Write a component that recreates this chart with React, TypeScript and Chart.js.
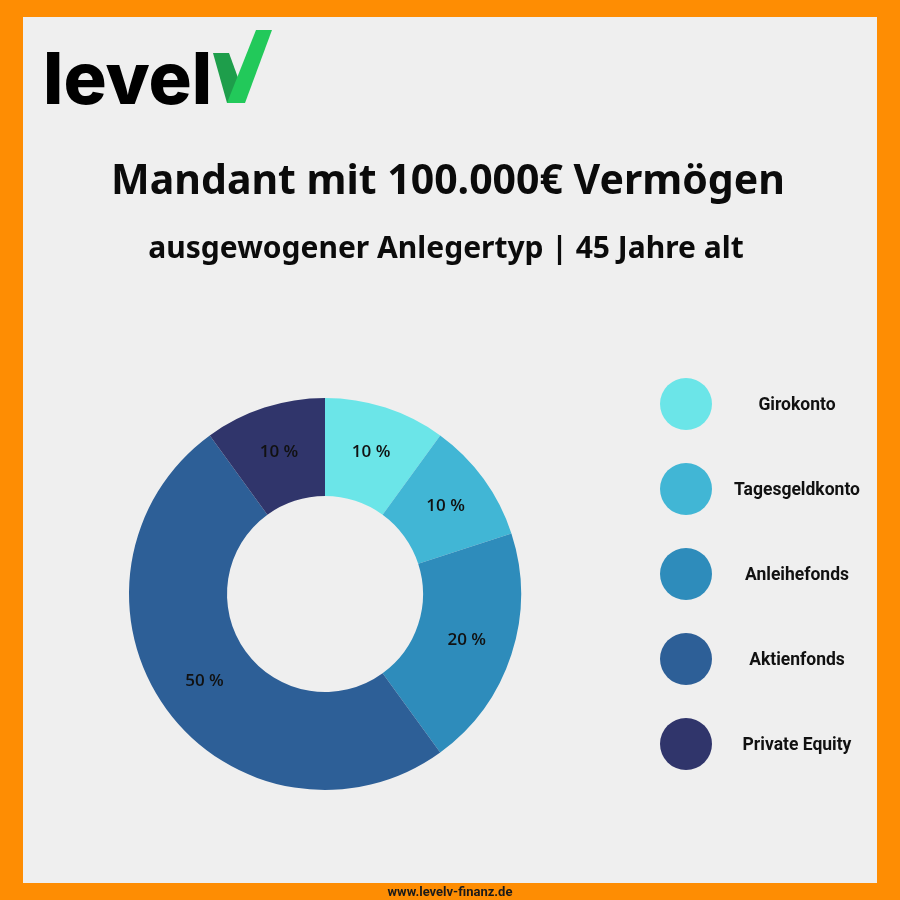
import React, { useEffect, useRef } from "react";
import { Chart, DoughnutController, ArcElement } from "chart.js";

Chart.register(DoughnutController, ArcElement);

// ---- data ----
const categories = ["Girokonto", "Tagesgeldkonto", "Anleihefonds", "Aktienfonds", "Private Equity"];
const shares = [10, 10, 20, 50, 10];
const sliceColors = ["#6BE5E8", "#41B6D5", "#2E8CBB", "#2D5F97", "#30356B"];
const titleText = "Mandant mit 100.000€ Vermögen";
const subtitleText = "ausgewogener Anlegertyp | 45 Jahre alt";
const footerText = "www.levelv-finanz.de";
const logoText = "level";

const ORANGE = "#FE8D03";
const PANEL = "#EFEFEF";

const decorPlugin = {
  id: "decor",
  beforeDraw(chart: any) {
    const ctx = chart.ctx as CanvasRenderingContext2D;
    ctx.save();
    ctx.fillStyle = ORANGE;
    ctx.fillRect(0, 0, 900, 900);
    ctx.fillStyle = PANEL;
    ctx.fillRect(23, 17, 854, 866);

    // logo
    ctx.fillStyle = "#000";
    ctx.font = "800 72px Inter";
    ctx.textAlign = "left";
    ctx.textBaseline = "alphabetic";
    ctx.fillText(logoText, 43, 104);
    // check mark
    ctx.fillStyle = "#1E9E4B";
    ctx.beginPath();
    ctx.moveTo(213, 53);
    ctx.lineTo(229, 53);
    ctx.lineTo(241, 86);
    ctx.lineTo(234, 103);
    ctx.lineTo(227, 103);
    ctx.closePath();
    ctx.fill();
    ctx.fillStyle = "#22C95A";
    ctx.beginPath();
    ctx.moveTo(256, 30);
    ctx.lineTo(272, 30);
    ctx.lineTo(245, 103);
    ctx.lineTo(227, 103);
    ctx.closePath();
    ctx.fill();

    // titles
    ctx.fillStyle = "#0B0B0B";
    ctx.textAlign = "center";
    ctx.font = "bold 41px 'Noto Sans'";
    ctx.fillText(titleText, 448, 194);
    ctx.font = "bold 30px 'Noto Sans'";
    ctx.fillText(subtitleText, 446, 258);

    // footer
    ctx.fillStyle = "#1A1A1A";
    ctx.font = "bold 13px Roboto";
    ctx.fillText(footerText, 450, 896);
    ctx.restore();
  },
};

const labelsPlugin = {
  id: "sliceLabels",
  afterDatasetsDraw(chart: any) {
    const ctx = chart.ctx as CanvasRenderingContext2D;
    const meta = chart.getDatasetMeta(0);
    const values = chart.data.datasets[0].data as number[];
    ctx.save();
    ctx.fillStyle = "#111";
    ctx.font = "600 17px 'Open Sans'";
    ctx.textAlign = "center";
    ctx.textBaseline = "middle";
    meta.data.forEach((arc: any, i: number) => {
      const p = arc.getProps(["x", "y", "startAngle", "endAngle", "innerRadius", "outerRadius"], true);
      const mid = (p.startAngle + p.endAngle) / 2;
      const r = (p.innerRadius + p.outerRadius) / 2 + 2;
      ctx.fillText(values[i] + " %", p.x + Math.cos(mid) * r, p.y + Math.sin(mid) * r);
    });
    ctx.restore();
  },
};

const legendPlugin = {
  id: "circleLegend",
  afterDraw(chart: any) {
    const ctx = chart.ctx as CanvasRenderingContext2D;
    const labels = chart.data.labels as string[];
    const colors = chart.data.datasets[0].backgroundColor as string[];
    ctx.save();
    labels.forEach((lab, i) => {
      const cy = 404 + i * 85;
      ctx.fillStyle = colors[i];
      ctx.beginPath();
      ctx.arc(686, cy, 26, 0, Math.PI * 2);
      ctx.fill();
      ctx.fillStyle = "#111";
      ctx.font = "bold 17.5px Roboto";
      ctx.textAlign = "center";
      ctx.textBaseline = "middle";
      ctx.fillText(lab, 797, cy + 2);
    });
    ctx.restore();
  },
};

export default function App() {
  const ref = useRef<HTMLCanvasElement>(null);
  useEffect(() => {
    let chart: Chart | null = null;
    let cancelled = false;
    const fonts = ["bold 39px Roboto", "bold 39px 'Noto Sans'", "800 72px Inter", "600 17px 'Open Sans'"];
    Promise.all(fonts.map((f) => document.fonts.load(f)))
      .catch(() => null)
      .then(() => {
        if (cancelled || !ref.current) return;
        chart = new Chart(ref.current, {
          type: "doughnut",
          data: {
            labels: categories,
            datasets: [
              {
                data: shares,
                backgroundColor: sliceColors,
                borderWidth: 0,
              },
            ],
          },
          options: {
            responsive: false,
            animation: false,
            cutout: "50%",
            layout: { padding: { left: 129, top: 398, right: 379, bottom: 110 } },
            plugins: { legend: { display: false }, tooltip: { enabled: false } } as any,
            events: [],
          },
          plugins: [decorPlugin, labelsPlugin, legendPlugin],
        });
      });
    return () => {
      cancelled = true;
      if (chart) chart.destroy();
    };
  }, []);
  return (
    <div style={{ position: "fixed", left: 0, top: 0, width: 900, height: 900 }}>
      <canvas ref={ref} width={900} height={900} style={{ display: "block", width: 900, height: 900 }} />
    </div>
  );
}
